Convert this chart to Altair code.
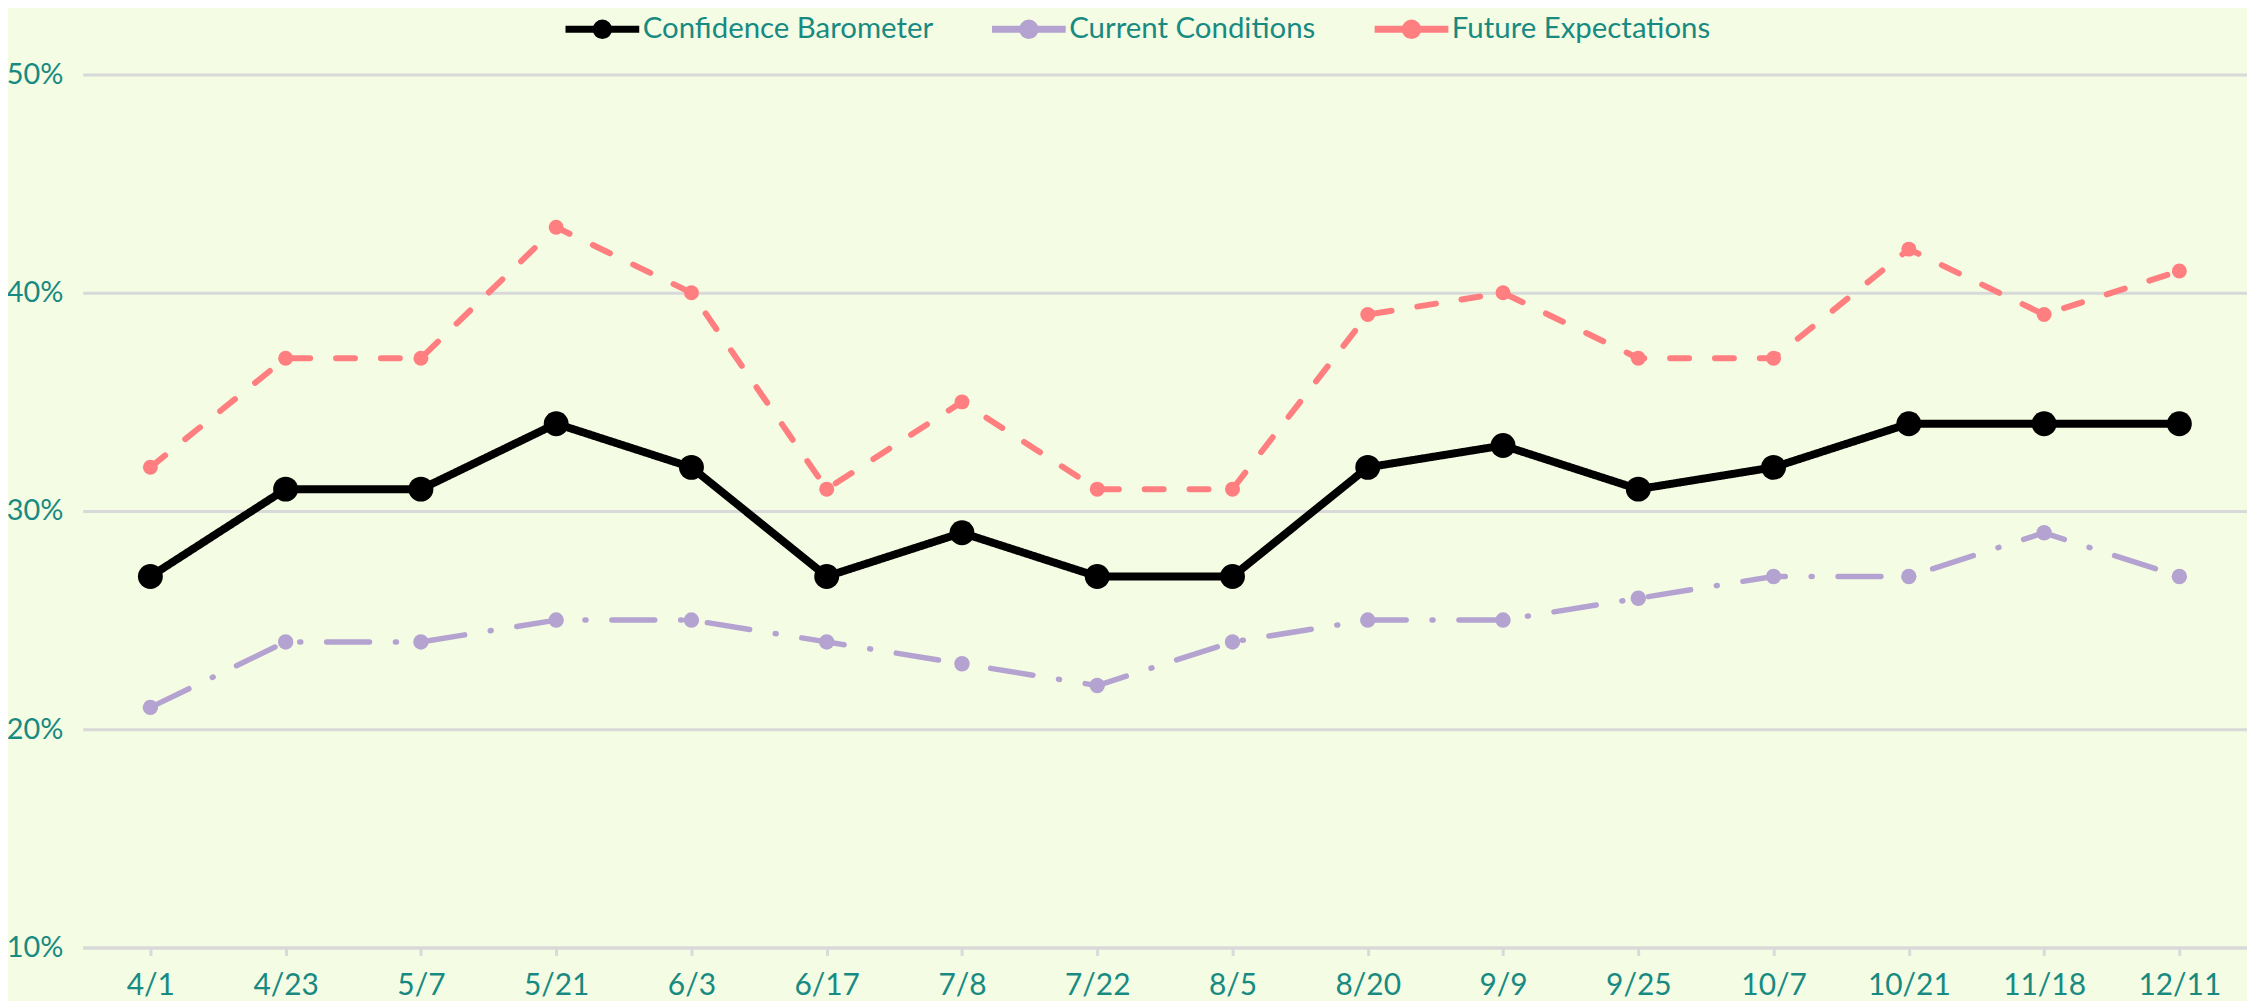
import altair as alt
import pandas as pd

dates = ["4/1", "4/23", "5/7", "5/21", "6/3", "6/17", "7/8", "7/22", "8/5",
         "8/20", "9/9", "9/25", "10/7", "10/21", "11/18", "12/11"]
confidence = [27, 31, 31, 34, 32, 27, 29, 27, 27, 32, 33, 31, 32, 34, 34, 34]
current = [21, 24, 24, 25, 25, 24, 23, 22, 24, 25, 25, 26, 27, 27, 29, 27]
future = [32, 37, 37, 43, 40, 31, 35, 31, 31, 39, 40, 37, 37, 42, 39, 41]
series = ["Confidence Barometer", "Current Conditions", "Future Expectations"]
colors = ["#000000", "#B4A2D0", "#FF7F81"]
y_ticks = [0.1, 0.2, 0.3, 0.4, 0.5]

rows = []
for name, vals in zip(series, [confidence, current, future]):
    for d, v in zip(dates, vals):
        rows.append({"date": d, "value": v / 100, "series": name})
df = pd.DataFrame(rows)

TEAL = "#188A81"
GRID = "#D9D9D9"
FONT = "Lato"

x_enc = alt.X("date:N", sort=dates,
              scale=alt.Scale(type="point", padding=0.5),
              axis=alt.Axis(title=None, grid=False, labelAngle=0, domain=True,
                            ticks=True, tickSize=8, labelPadding=15,
                            labelFontSize=30))
y_enc = alt.Y("value:Q", scale=alt.Scale(domain=[0.1, 0.5], nice=False),
              axis=alt.Axis(title=None, values=y_ticks, format=".0%", grid=True,
                            domain=False, ticks=False, labelPadding=20,
                            labelFontSize=29))
legend_path = "M-1,0L1,0M0.17,0A0.17,0.17,0,1,1,-0.17,0A0.17,0.17,0,1,1,0.17,0Z"
color_enc = alt.Color("series:N", scale=alt.Scale(domain=series, range=colors),
                      legend=alt.Legend(title=None, orient="none", direction="horizontal",
                                        legendX=481, legendY=-86,
                                        symbolType=legend_path, symbolSize=5476,
                                        symbolStrokeWidth=7, columnPadding=44,
                                        labelOffset=0))

base = alt.Chart(df).encode(x=x_enc, y=y_enc, color=color_enc)

styles = {
    "Future Expectations": dict(width=6, dash=[19, 26], size=225),
    "Current Conditions": dict(width=5.5, dash=[43, 26, 1, 26], size=240),
    "Confidence Barometer": dict(width=8, dash=[1, 0], size=625),
}
layers = []
for name in ["Future Expectations", "Current Conditions", "Confidence Barometer"]:
    s = styles[name]
    sub = base.transform_filter(alt.datum.series == name)
    layers.append(sub.mark_line(strokeWidth=s["width"], strokeDash=s["dash"],
                                strokeCap="round", strokeJoin="round"))
    layers.append(sub.mark_circle(size=s["size"], opacity=1))

chart = alt.layer(*layers).properties(
    width=2172, height=876,
    autosize=alt.AutoSizeParams(type="none"),
    padding={"left": 75, "top": 65, "right": 0, "bottom": 52},
    background="#F4FDE4",
).configure_view(stroke=None).configure_axis(
    labelFont=FONT, labelColor=TEAL,
    gridColor=GRID, gridWidth=3, domainColor=GRID, domainWidth=3,
    tickColor=GRID, tickWidth=3,
).configure_legend(
    labelFont=FONT, labelFontSize=29.5, labelColor=TEAL, labelLimit=0,
)

chart.save("out.html", embed_options={"renderer": "svg", "actions": False})
